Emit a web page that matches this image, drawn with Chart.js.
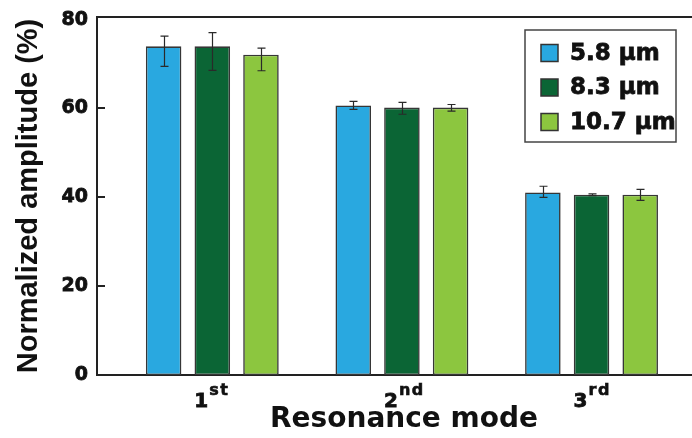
<!DOCTYPE html>
<html>
<head>
<meta charset="utf-8">
<script src="https://cdn.jsdelivr.net/npm/chart.js@4.4.1/dist/chart.umd.min.js"></script>
<style>
  html, body { margin: 0; padding: 0; background: #fff; overflow: hidden; width: 692px; height: 438px; }
  #wrap { position: relative; width: 711px; height: 438px; }
</style>
</head>
<body>
<div id="wrap"><canvas id="chart"></canvas></div>
<script>
// Resonance modes on the x axis
const modes = ['1st', '2nd', '3rd'];
// Beam widths (legend entries)
const widths = ['5.8 µm', '8.3 µm', '10.7 µm'];

// Normalized amplitude (%) per mode
const amp58 = [74.0, 60.7, 41.1];
const amp83 = [74.0, 60.2, 40.6];
const amp107 = [72.1, 60.2, 40.6];

// Error bar extents above / below each mean (%)
const errUp58 = [2.3, 0.9, 1.4];
const errDown58 = [4.5, 0.9, 1.1];
const errUp83 = [3.1, 1.2, 0.2];
const errDown83 = [5.4, 1.5, 0.2];
const errUp107 = [1.5, 0.7, 1.2];
const errDown107 = [3.6, 0.8, 1.3];

// Y axis tick values
const yTicks = [0, 20, 40, 60, 80];

const colors = ['#29a8e0', '#0b6535', '#8cc63f'];
const series = [
  { label: widths[0], values: amp58, up: errUp58, down: errDown58 },
  { label: widths[1], values: amp83, up: errUp83, down: errDown83 },
  { label: widths[2], values: amp107, up: errUp107, down: errDown107 }
];

const BOLD = 'bold';
const INK = '#111';

// filled text with a thin outline for a heavier look
function heavyText(ctx, text, x, y, width) {
  ctx.fillText(text, x, y);
  ctx.lineWidth = width;
  ctx.strokeStyle = ctx.fillStyle;
  ctx.strokeText(text, x, y);
}

const extras = {
  id: 'extras',
  afterDatasetsDraw(chart) {
    const { ctx, chartArea: a, scales: { x, y } } = chart;
    ctx.save();

    // top frame line
    ctx.strokeStyle = '#222';
    ctx.lineWidth = 2;
    ctx.beginPath();
    ctx.moveTo(a.left - 1, a.top);
    ctx.lineTo(a.right, a.top);
    ctx.stroke();

    // inward tick marks on the y axis (inner values only)
    yTicks.slice(1, -1).forEach(v => {
      const py = Math.round(y.getPixelForValue(v));
      ctx.beginPath();
      ctx.moveTo(a.left, py);
      ctx.lineTo(a.left + 8, py);
      ctx.stroke();
    });

    // error bars
    ctx.strokeStyle = '#2a2a2a';
    ctx.lineWidth = 1.2;
    chart.data.datasets.forEach((ds, k) => {
      const meta = chart.getDatasetMeta(k);
      meta.data.forEach((bar, i) => {
        const v = series[k].values[i];
        const hi = y.getPixelForValue(v + series[k].up[i]);
        const lo = y.getPixelForValue(v - series[k].down[i]);
        const cx = Math.round(bar.x) + 0.5;
        ctx.beginPath();
        ctx.moveTo(cx, hi); ctx.lineTo(cx, lo);
        ctx.moveTo(cx - 4, hi); ctx.lineTo(cx + 4, hi);
        ctx.moveTo(cx - 4, lo); ctx.lineTo(cx + 4, lo);
        ctx.stroke();
      });
    });

    // ordinal category labels with raised suffix
    ctx.fillStyle = INK;
    modes.forEach((m, i) => {
      const parts = m.match(/^(\d+)(.*)$/);
      const cx = x.getPixelForValue(i + 1);
      ctx.font = 'bold 20px "DejaVu Sans"';
      ctx.textAlign = 'right';
      ctx.textBaseline = 'alphabetic';
      heavyText(ctx, parts[1], cx - 4, 407, 0.8);
      ctx.font = 'bold 16px "DejaVu Sans"';
      ctx.textAlign = 'left';
      if ('letterSpacing' in ctx) ctx.letterSpacing = '1.5px';
      heavyText(ctx, parts[2], cx - 3, 395, 0.6);
      if ('letterSpacing' in ctx) ctx.letterSpacing = '0px';
    });

    // framed legend in the upper right of the plot
    const lx = a.right - 186, ly = a.top + 13, lw = 151, lh = 112;
    ctx.fillStyle = '#fff';
    ctx.fillRect(lx, ly, lw, lh);
    ctx.strokeStyle = '#444';
    ctx.lineWidth = 1.5;
    ctx.strokeRect(lx, ly, lw, lh);
    chart.data.datasets.forEach((ds, k) => {
      const rowY = ly + 23 + k * 34.5;
      ctx.fillStyle = ds.backgroundColor;
      ctx.fillRect(lx + 16, rowY - 8.5, 17, 17);
      ctx.strokeStyle = '#333';
      ctx.lineWidth = 1.5;
      ctx.strokeRect(lx + 16, rowY - 8.5, 17, 17);
      ctx.fillStyle = INK;
      ctx.font = 'bold 23px "DejaVu Sans"';
      ctx.textAlign = 'left';
      ctx.textBaseline = 'middle';
      heavyText(ctx, ds.label, lx + 45, rowY + 1, 0.8);
    });

    ctx.restore();
  }
};

new Chart(document.getElementById('chart'), {
  type: 'bar',
  data: {
    datasets: series.map((s, k) => ({
      label: s.label,
      data: s.values.map((v, i) => ({ x: i + 1, y: v })),
      backgroundColor: colors[k],
      borderColor: '#363636',
      borderWidth: 1.6,
      borderSkipped: false,
      categoryPercentage: 0.77,
      barPercentage: 0.73
    }))
  },
  options: {
    responsive: true,
    maintainAspectRatio: false,
    animation: false,
    layout: { padding: { top: 17, right: 0, bottom: 0, left: 0 } },
    plugins: { legend: { display: false }, tooltip: { enabled: false } },
    scales: {
      x: {
        type: 'linear',
        min: 0.392,
        max: 3.63,
        offset: false,
        grid: { display: false, drawTicks: false },
        border: { display: true, color: '#222', width: 2 },
        ticks: { display: false },
        afterBuildTicks: s => { s.ticks = modes.map((_, i) => ({ value: i + 1 })); },
        afterFit: s => { s.height = 63; s.paddingLeft = 0; s.paddingRight = 0; },
        title: {
          display: true,
          text: 'Resonance mode',
          color: INK,
          font: { family: 'DejaVu Sans', weight: BOLD, size: 28, lineHeight: 1 },
          padding: { top: 0, bottom: 4 }
        }
      },
      y: {
        min: 0,
        max: 80.6,
        afterBuildTicks: s => { s.ticks = yTicks.map(v => ({ value: v })); },
        grid: { display: false, drawTicks: false },
        border: { display: true, color: '#222', width: 2 },
        ticks: {
          color: INK,
          padding: 9,
          textStrokeColor: INK,
          textStrokeWidth: 0.8,
          font: { family: 'DejaVu Sans', weight: BOLD, size: 19 }
        },
        afterFit: s => { s.width = 97; s.paddingTop = 0; s.paddingBottom = 0; },
        title: {
          display: true,
          text: 'Normalized amplitude (%)',
          color: INK,
          font: { family: 'Liberation Sans', weight: BOLD, size: 29, lineHeight: 1 },
          padding: { top: 14, bottom: 0 }
        }
      }
    }
  },
  plugins: [extras]
});
</script>
</body>
</html>
